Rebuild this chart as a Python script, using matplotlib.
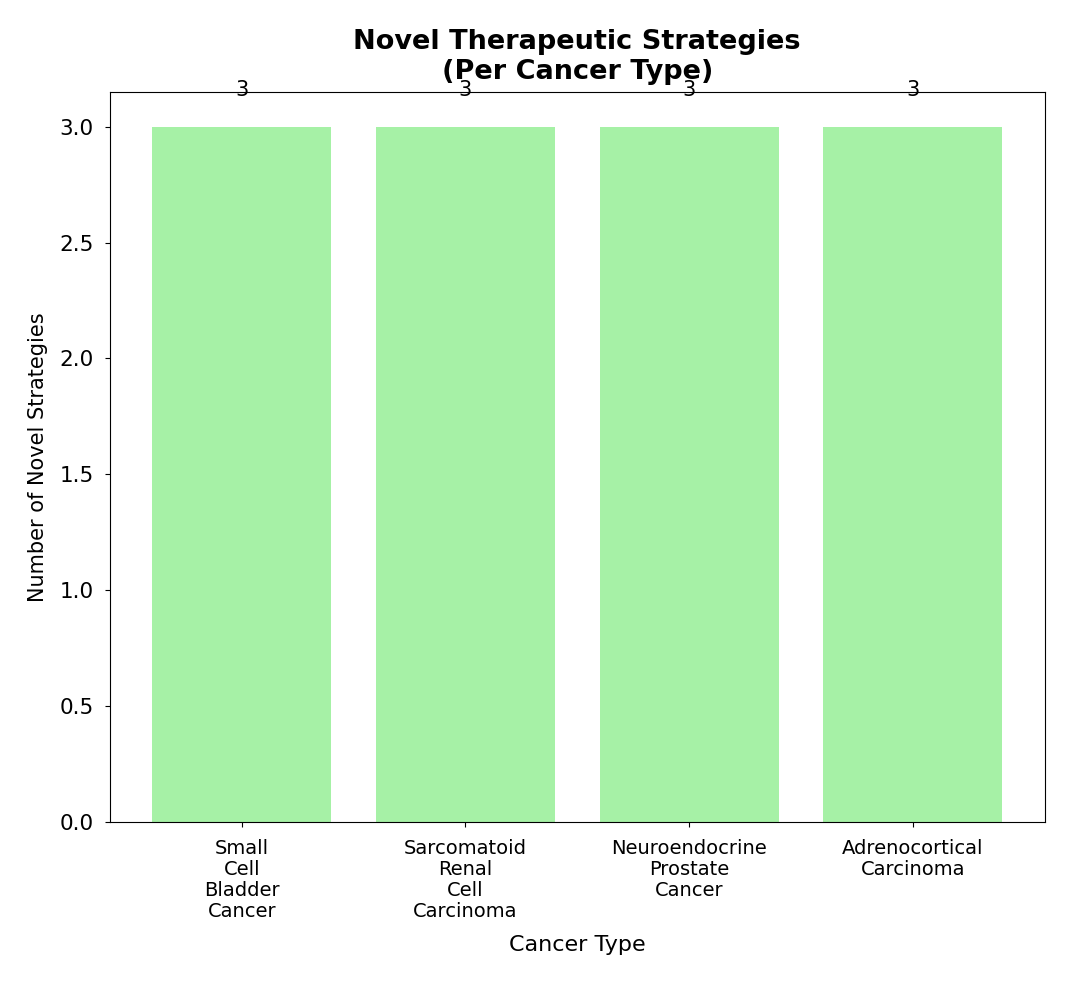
import matplotlib
matplotlib.use("Agg")
import matplotlib.pyplot as plt

cancer_types = [
    "Small\nCell\nBladder\nCancer",
    "Sarcomatoid\nRenal\nCell\nCarcinoma",
    "Neuroendocrine\nProstate\nCancer",
    "Adrenocortical\nCarcinoma",
]
strategy_counts = [3, 3, 3, 3]

fig, ax = plt.subplots(figsize=(10.66, 9.88), dpi=100)
fig.subplots_adjust(left=0.103, right=0.980, bottom=0.168, top=0.907)

bars = ax.bar(range(len(cancer_types)), strategy_counts, color="lightgreen", alpha=0.8, width=0.8)

# count labels sit right on the top spine, like the original
for i, v in enumerate(strategy_counts):
    ax.text(i, v + 0.16, str(v), ha="center", va="center", fontsize=15)

ax.set_xticks(range(len(cancer_types)))
ax.set_xticklabels(cancer_types, fontsize=14, linespacing=1.12)
ax.tick_params(axis="x", pad=9)
ax.tick_params(axis="y", labelsize=15.5, pad=8)
ax.set_xlabel("Cancer Type", fontsize=16, labelpad=10)
ax.set_ylabel("Number of Novel Strategies", fontsize=15, labelpad=8)
ax.set_title("Novel Therapeutic Strategies\n(Per Cancer Type)", fontsize=19.5, fontweight="bold", pad=9)

fig.savefig("out.png")
